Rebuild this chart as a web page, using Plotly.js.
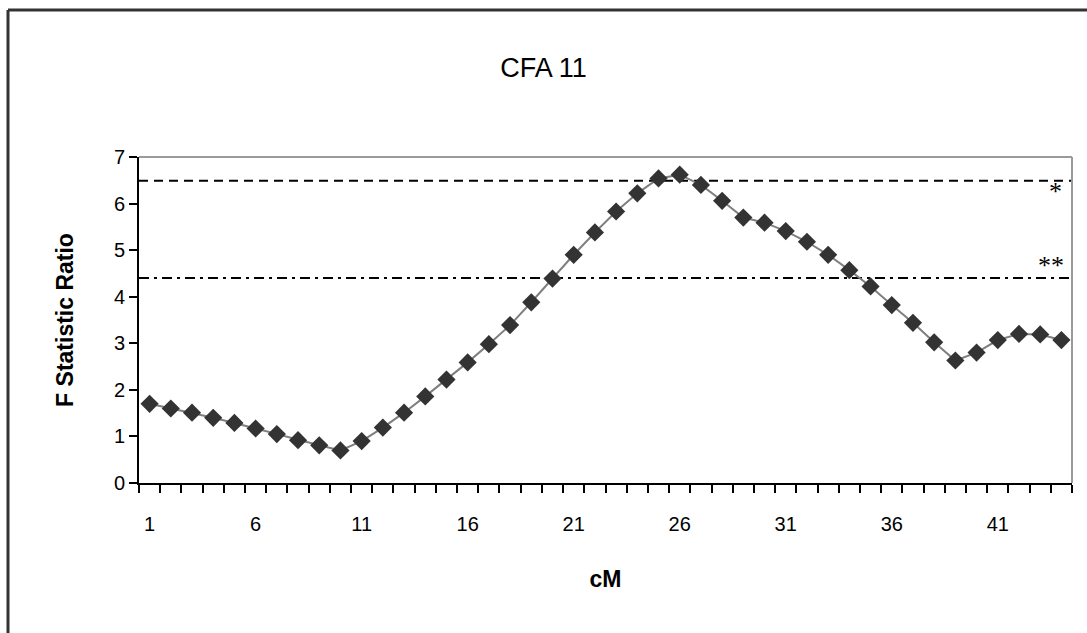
<!DOCTYPE html>
<html>
<head>
<meta charset="utf-8">
<script src="https://cdn.plot.ly/plotly-3.0.1.min.js"></script>
<style>
  html, body { margin: 0; padding: 0; background: #fff; }
  #chart { width: 1087px; height: 633px; }
</style>
</head>
<body>
<div id="chart"></div>
<script>
// Data
const cM = [1,2,3,4,5,6,7,8,9,10,11,12,13,14,15,16,17,18,19,20,21,22,23,24,25,26,27,28,29,30,31,32,33,34,35,36,37,38,39,40,41,42,43,44];
const fRatio = [1.70,1.60,1.51,1.40,1.29,1.17,1.05,0.92,0.81,0.70,0.90,1.19,1.51,1.86,2.22,2.59,2.98,3.39,3.88,4.39,4.90,5.38,5.83,6.22,6.54,6.62,6.40,6.06,5.70,5.59,5.41,5.18,4.90,4.57,4.22,3.82,3.44,3.02,2.63,2.80,3.07,3.20,3.19,3.07];
const thresholdSingle = 6.49;   // "*"
const thresholdDouble = 4.40;   // "**"
const xTickLabels = [1,6,11,16,21,26,31,36,41];
const yTickLabels = [0,1,2,3,4,5,6,7];

const xMin = cM[0] - 0.5, xMax = cM[cM.length-1] + 0.5;
const tickBetween = [];
for (let i = 0; i <= cM.length; i++) tickBetween.push(cM[0] - 0.5 + i);

const font = 'Liberation Sans, Arial, sans-serif';

const traces = [
  {
    x: [xMin, xMax], y: [thresholdSingle, thresholdSingle],
    mode: 'lines', line: {color: '#000', width: 2, dash: '9px,6px'},
    hoverinfo: 'skip', showlegend: false
  },
  {
    x: [xMin, xMax], y: [thresholdDouble, thresholdDouble],
    mode: 'lines', line: {color: '#000', width: 2, dash: '10px,5px,3px,5px'},
    hoverinfo: 'skip', showlegend: false
  },
  {
    x: cM, y: fRatio,
    mode: 'lines+markers',
    line: {color: '#7f7f7f', width: 2},
    marker: {symbol: 'diamond', size: 14, color: '#333333'},
    showlegend: false
  },
  {
    x: cM, y: fRatio, xaxis: 'x2',
    mode: 'markers', marker: {opacity: 0}, hoverinfo: 'skip', showlegend: false
  }
];

const layout = {
  width: 1087, height: 633,
  margin: {l: 139, r: 15, t: 157, b: 150},
  paper_bgcolor: '#fff', plot_bgcolor: '#fff',
  font: {family: font, color: '#000'},
  title: {
    text: 'CFA 11', x: 0.5, xanchor: 'center', xref: 'container',
    y: 1 - 68/633, yanchor: 'middle', yref: 'container',
    font: {family: font, size: 27, color: '#000'}
  },
  xaxis: {
    range: [xMin, xMax], tickvals: tickBetween, showticklabels: false,
    ticks: 'outside', ticklen: 8, tickwidth: 2, tickcolor: '#000',
    showline: true, linecolor: '#000', linewidth: 2,
    showgrid: false, zeroline: false, mirror: false
  },
  xaxis2: {
    overlaying: 'x', matches: 'x', side: 'bottom', anchor: 'y',
    range: [xMin, xMax], tickvals: xTickLabels, ticktext: xTickLabels.map(String),
    ticks: '', ticklen: 0, showline: false, showgrid: false, zeroline: false,
    tickfont: {family: font, size: 20, color: '#000'},
    ticklabelstandoff: 27,
    title: {text: '<b>cM</b>', font: {family: font, size: 23, color: '#000'}, standoff: 36}
  },
  yaxis: {
    range: [0, 7], tickvals: yTickLabels, ticktext: yTickLabels.map(String),
    ticks: 'outside', ticklen: 8, tickwidth: 2, tickcolor: '#000',
    showline: true, linecolor: '#000', linewidth: 2,
    showgrid: false, zeroline: false,
    tickfont: {family: font, size: 20, color: '#000'},
    title: {text: '<b>F Statistic Ratio</b>', font: {family: font, size: 23, color: '#000'}, standoff: 34}
  },
  shapes: [
    // plot area border (top & right), grey
    {type: 'line', xref: 'paper', yref: 'paper', x0: 0, x1: 1, y0: 1, y1: 1, line: {color: '#9a9a9a', width: 2}},
    {type: 'line', xref: 'paper', yref: 'paper', x0: 1, x1: 1, y0: 0, y1: 1, line: {color: '#9a9a9a', width: 2}},
    // outer frame (left & top)
    {type: 'line', xref: 'paper', yref: 'paper', x0: (8 - 139)/933, x1: (1100 - 139)/933, y0: (483 - 10)/326, y1: (483 - 10)/326, line: {color: '#333', width: 3}},
    {type: 'line', xref: 'paper', yref: 'paper', x0: (8 - 139)/933, x1: (8 - 139)/933, y0: (483 - 10)/326, y1: (483 - 650)/326, line: {color: '#333', width: 3}}
  ],
  annotations: [
    {x: xMax, y: thresholdSingle, xref: 'x', yref: 'y', text: '*', showarrow: false,
     xanchor: 'right', yanchor: 'top', xshift: -8, yshift: 6,
     font: {family: 'Liberation Serif, Times New Roman, serif', size: 26, color: '#000'}},
    {x: xMax, y: thresholdDouble, xref: 'x', yref: 'y', text: '**', showarrow: false,
     xanchor: 'right', yanchor: 'bottom', xshift: -6, yshift: -4,
     font: {family: 'Liberation Serif, Times New Roman, serif', size: 26, color: '#000'}}
  ]
};

Plotly.newPlot('chart', traces, layout, {displayModeBar: false, staticPlot: true});
</script>
</body>
</html>
